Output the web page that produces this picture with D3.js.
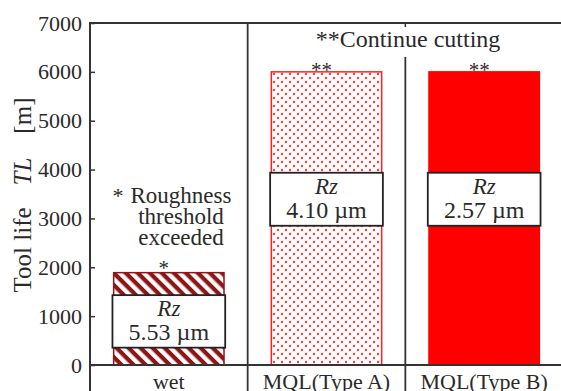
<!DOCTYPE html>
<html>
<head>
<meta charset="utf-8">
<script src="https://cdn.jsdelivr.net/npm/d3@7"></script>
<style>
  body { margin: 0; background: #fff; }
  svg text { font-family: "Liberation Serif", "Times New Roman", Times, serif !important; fill: #2a2a2a; }
</style>
</head>
<body>
<div id="chart"></div>
<script>
// Data
const categories = ["wet", "MQL(Type A)", "MQL(Type B)"];
const toolLife = [1890, 6000, 6000];
const rzValues = ["5.53", "4.10", "2.57"];
const rzBoxTop = [1430, 3935, 3935];
const rzBoxBottom = [355, 2850, 2850];
const barMarks = ["*", "**", "**"];
const yTicks = [0, 1000, 2000, 3000, 4000, 5000, 6000, 7000];
const noteLines = ["Roughness", "threshold", "exceeded"];

const W = 561, H = 391;
const plotLeft = 90, plotTop = 23, zeroY = 365, plotRight = 563;

const svg = d3.select("#chart").append("svg")
    .attr("width", W)
    .attr("height", H);

// Patterns
const defs = svg.append("defs");
const hatch = defs.append("pattern")
    .attr("id", "hatch")
    .attr("patternUnits", "userSpaceOnUse")
    .attr("width", 8.5).attr("height", 8.5)
    .attr("patternTransform", "rotate(45)");
hatch.append("rect").attr("width", 8.5).attr("height", 8.5).attr("fill", "#fff");
hatch.append("rect").attr("width", 8.5).attr("height", 4.2).attr("fill", "#8e1616");

const dots = defs.append("pattern")
    .attr("id", "dots")
    .attr("patternUnits", "userSpaceOnUse")
    .attr("width", 8).attr("height", 8);
dots.append("rect").attr("width", 8).attr("height", 8).attr("fill", "#fff");
dots.append("circle").attr("cx", 2).attr("cy", 2).attr("r", 1.2).attr("fill", "#ff3a3a");
dots.append("circle").attr("cx", 6).attr("cy", 6).attr("r", 1.2).attr("fill", "#ff3a3a");

const fills = ["url(#hatch)", "url(#dots)", "#ff0000"];
const strokes = ["#8e1616", "#ff2020", "#ff0000"];

// Scales
const x = d3.scaleBand().domain(categories).range([plotLeft, plotRight]);
const y = d3.scaleLinear().domain([0, 7000]).range([zeroY, plotTop]);

// Bars
const barW = x.bandwidth() * 0.7;
svg.selectAll(".bar")
    .data(categories)
    .enter().append("rect")
    .attr("class", "bar")
    .attr("x", d => x(d) + (x.bandwidth() - barW) / 2)
    .attr("y", (d, i) => y(toolLife[i]))
    .attr("width", barW)
    .attr("height", (d, i) => y(0) - y(toolLife[i]))
    .attr("fill", (d, i) => fills[i])
    .attr("stroke", (d, i) => strokes[i])
    .attr("stroke-width", 1.5);

// Rz boxes
const boxW = x.bandwidth() * 0.715;
categories.forEach((c, i) => {
    const bx = x(c) + (x.bandwidth() - boxW) / 2;
    const y0 = y(rzBoxTop[i]), y1 = y(rzBoxBottom[i]);
    svg.append("rect")
        .attr("x", bx).attr("y", y0)
        .attr("width", boxW).attr("height", y1 - y0)
        .attr("fill", "#fff")
        .attr("stroke", "#222")
        .attr("stroke-width", 1.8);
    const cx = bx + boxW / 2;
    svg.append("text")
        .attr("x", cx).attr("y", y0 + 21)
        .attr("text-anchor", "middle")
        .attr("font-size", 23)
        .attr("font-style", "italic")
        .text("Rz");
    svg.append("text")
        .attr("x", cx).attr("y", y0 + 45)
        .attr("text-anchor", "middle")
        .attr("font-size", 24)
        .text(rzValues[i] + " µm");

    // asterisk marks above bars
    svg.append("text")
        .attr("x", x(c) + x.bandwidth() / 2 - 5)
        .attr("y", y(toolLife[i]) + 5 - (i === 0 ? 3 : 0))
        .attr("text-anchor", "middle")
        .attr("font-size", 21)
        .text(barMarks[i]);
});

// Frame: top line, baseline, dividers
svg.append("line")
    .attr("x1", plotLeft).attr("x2", W)
    .attr("y1", plotTop).attr("y2", plotTop)
    .attr("stroke", "#333").attr("stroke-width", 2);
svg.append("line")
    .attr("x1", plotLeft).attr("x2", W)
    .attr("y1", y(0)).attr("y2", y(0))
    .attr("stroke", "#333").attr("stroke-width", 2);
svg.append("line")
    .attr("x1", x(categories[1])).attr("x2", x(categories[1]))
    .attr("y1", plotTop).attr("y2", H)
    .attr("stroke", "#333").attr("stroke-width", 1.8);
svg.append("line")
    .attr("x1", x(categories[2])).attr("x2", x(categories[2]))
    .attr("y1", 57).attr("y2", H)
    .attr("stroke", "#333").attr("stroke-width", 1.8);
svg.append("line")
    .attr("x1", x(categories[2])).attr("x2", x(categories[2]))
    .attr("y1", plotTop).attr("y2", plotTop + 4)
    .attr("stroke", "#333").attr("stroke-width", 1.5);

// Y axis
const yAxis = svg.append("g")
    .attr("transform", `translate(${plotLeft},0)`)
    .call(d3.axisLeft(y).tickValues(yTicks).tickSize(-5).tickPadding(8).tickFormat(d3.format("d")));
yAxis.select(".domain").remove();
yAxis.selectAll(".tick line").attr("stroke", "#333").attr("stroke-width", 1.5);
yAxis.selectAll(".tick text")
    .attr("font-size", 22)
    .attr("fill", "#333");
svg.append("line")
    .attr("x1", plotLeft).attr("x2", plotLeft)
    .attr("y1", plotTop - 1).attr("y2", H)
    .attr("stroke", "#333").attr("stroke-width", 2);

// Y axis title
const yTitle = svg.append("text")
    .attr("transform", "translate(31,195) rotate(-90)")
    .attr("text-anchor", "middle")
    .attr("font-size", 25);
yTitle.append("tspan").text("Tool life");
yTitle.append("tspan").attr("dx", 22).attr("font-style", "italic").text("TL");
yTitle.append("tspan").attr("dx", 24).text("[m]");

// Category labels
svg.selectAll(".cat")
    .data(categories)
    .enter().append("text")
    .attr("class", "cat")
    .attr("x", d => x(d) + x.bandwidth() / 2)
    .attr("y", 389)
    .attr("text-anchor", "middle")
    .attr("font-size", 22)
    .text(d => d);

// Annotations
svg.append("text")
    .attr("x", 408).attr("y", 47)
    .attr("text-anchor", "middle")
    .attr("font-size", 24)
    .text("**Continue cutting");

svg.append("text")
    .attr("x", 118).attr("y", 203)
    .attr("text-anchor", "middle")
    .attr("font-size", 22)
    .text("*");
svg.selectAll(".note")
    .data(noteLines)
    .enter().append("text")
    .attr("class", "note")
    .attr("x", 181)
    .attr("y", (d, i) => 203 + i * 21)
    .attr("text-anchor", "middle")
    .attr("font-size", 23)
    .text(d => d);
</script>
</body>
</html>
